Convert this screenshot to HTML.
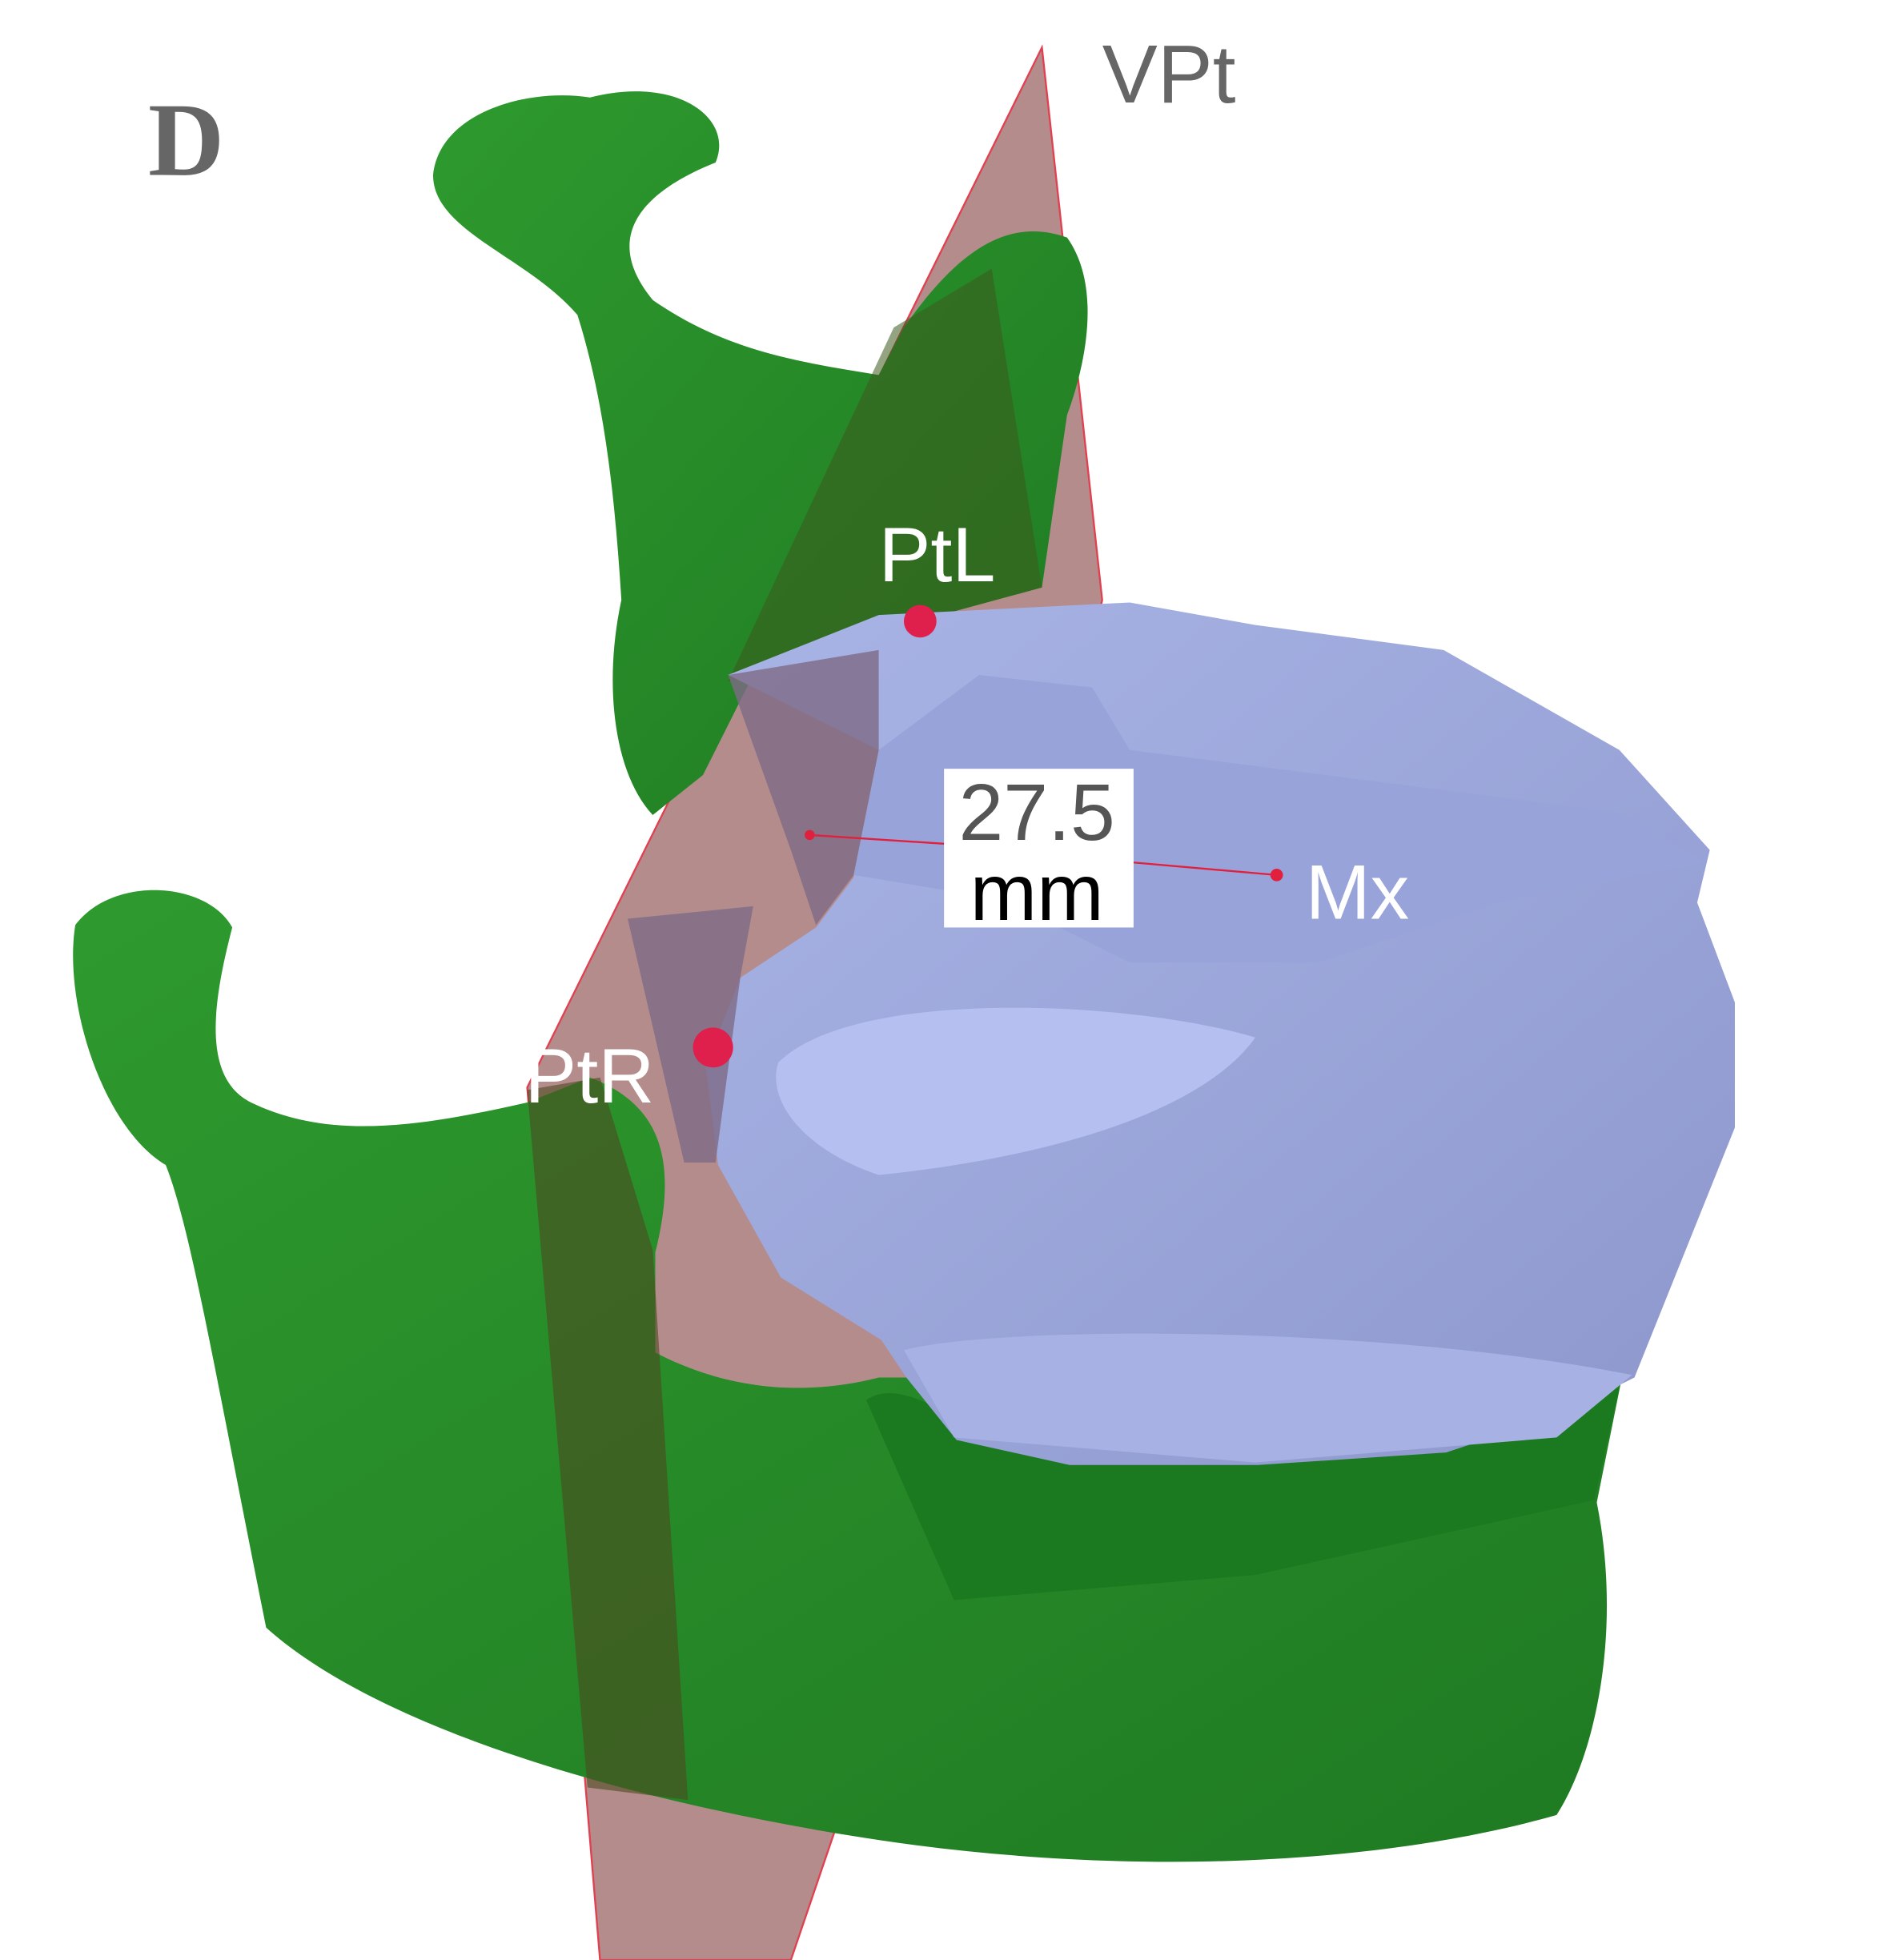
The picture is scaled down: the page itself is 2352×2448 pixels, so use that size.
<!DOCTYPE html>
<html><head><meta charset="utf-8"><style>
html,body{margin:0;padding:0;background:#fff;}
svg{display:block;}
</style></head><body>
<svg width="2352" height="2448" viewBox="0 0 1500 1568" preserveAspectRatio="none" xmlns="http://www.w3.org/2000/svg">
<defs>
<linearGradient id="g" x1="0" y1="0" x2="1" y2="1">
<stop offset="0" stop-color="#2e9a2e"/><stop offset="1" stop-color="#1f7a22"/></linearGradient>
<linearGradient id="b" x1="0" y1="0" x2="1" y2="1">
<stop offset="0" stop-color="#a9b4e6"/><stop offset="1" stop-color="#8d97cc"/></linearGradient>
</defs>
<rect width="1500" height="1568" fill="#fff"/>
<!-- pink plane -->
<polygon points="830,38 878,480 670,1450 630,1568 478,1568 420,870" fill="#b48c8c" stroke="#e04050" stroke-width="1.5"/>
<!-- upper ramus -->
<path d="M345,140 C350,90 420,70 470,78 C540,60 585,95 570,130 C520,150 475,185 520,240 C580,282 640,290 700,300 L720,262 C760,205 800,172 850,190 C880,232 862,300 850,332 L830,470 L720,500 L600,540 L560,620 L520,652 C490,620 480,550 495,480 C490,400 482,322 460,252 C420,205 345,185 345,140Z" fill="url(#g)"/>
<!-- plane overlay on upper ramus -->
<polygon points="712,262 790,215 830,470 720,500 600,540 580,545" fill="#3c5a1e" opacity="0.55"/>
<!-- lower mandible -->
<path d="M60,740 C90,700 165,705 185,742 C170,800 160,862 200,882 C262,912 332,902 420,882 L470,862 C522,882 542,922 522,1002 L522,1082 C560,1102 622,1122 700,1102 L1292,1102 L1272,1202 C1292,1302 1272,1402 1240,1452 C1100,1492 900,1502 700,1472 C500,1442 300,1382 212,1302 C172,1102 152,982 132,932 C82,902 50,802 60,740Z" fill="url(#g)"/>
<!-- lower teeth -->
<path d="M690,1120 C720,1100 760,1140 800,1150 L1290,1110 L1270,1200 L1000,1260 L760,1280 Z" fill="#1b7a1f"/>
<!-- plane band over lower mandible -->
<polygon points="420,872 478,862 520,1000 548,1440 468,1430" fill="#4d4a1f" opacity="0.6"/>
<!-- blue maxilla -->
<path d="M580,540 L700,492 L900,482 L1000,500 L1150,520 L1290,600 L1362,680 L1352,722 L1382,802 L1382,902 L1342,1002 L1302,1102 L1242,1132 L1152,1162 L1002,1172 L852,1172 L762,1152 L722,1102 L702,1072 L622,1022 L572,932 L562,852 L590,782 L650,742 L680,702 L700,600Z" fill="url(#b)"/>
<path d="M700,600 L780,540 L870,550 L900,600 L1290,650 L1360,690 L1200,720 L1050,770 L900,770 L800,720 L680,700Z" fill="#98a3da"/>
<path d="M620,850 C680,790 900,800 1000,830 C950,900 800,930 700,940 C640,920 610,880 620,850Z" fill="#b5bff0"/>
<path d="M720,1080 C800,1060 1100,1060 1300,1100 L1240,1150 L1000,1170 L760,1150Z" fill="#a7b1e4"/>
<!-- purple bits -->
<polygon points="580,540 700,520 700,600 680,700 650,740 630,680" fill="#7e6a86" opacity="0.8"/>
<polygon points="500,735 600,725 590,780 570,930 545,930" fill="#7e6a86" opacity="0.8"/>
<!-- measurement -->
<line x1="645" y1="668" x2="752" y2="675" stroke="#e0203c" stroke-width="1.5"/>
<line x1="903" y1="690" x2="1017" y2="700" stroke="#e0203c" stroke-width="1.5"/>
<circle cx="645" cy="668" r="4" fill="#e0203c"/>
<circle cx="1017" cy="700" r="5" fill="#e0203c"/>
<circle cx="733" cy="497" r="13" fill="#e0204c"/>
<circle cx="568" cy="838" r="16" fill="#e0204c"/>
<rect x="752" y="615" width="151" height="127" fill="#fff"/>
<g font-family="Liberation Sans, sans-serif">
<text x="826" y="672" font-size="64" fill="#555" text-anchor="middle">27.5</text>
<text x="826" y="736" font-size="64" fill="#000" text-anchor="middle">mm</text>
<text x="118" y="140" font-size="84" font-weight="bold" fill="#666" font-family="Liberation Serif, serif">D</text>
<text x="878" y="82" font-size="66" fill="#666">VPt</text>
<text x="700" y="465" font-size="62" fill="#fff">PtL</text>
<text x="418" y="882" font-size="62" fill="#fff">PtR</text>
<text x="1040" y="735" font-size="62" fill="#fff">Mx</text>
</g>
</svg>
</body></html>
